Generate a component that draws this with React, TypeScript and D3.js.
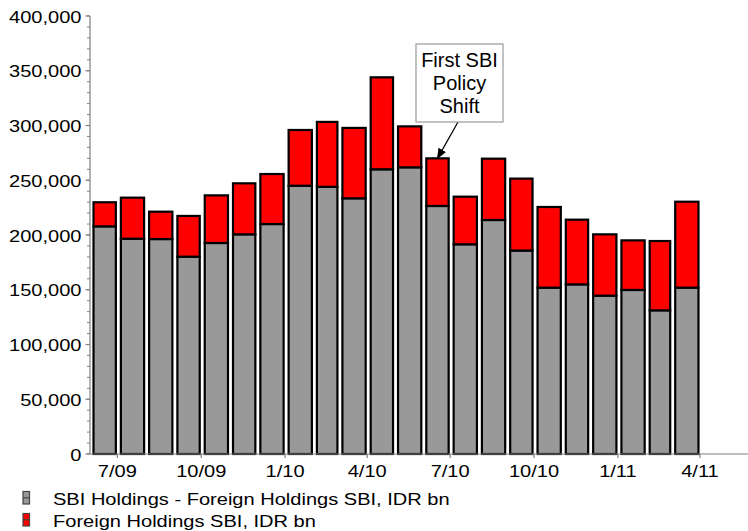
import React from "react";
import * as d3 from "d3";

// Monthly observations (bar spans the month, ending at the next month start)
const months: string[] = [
  "2009-06", "2009-07", "2009-08", "2009-09", "2009-10", "2009-11", "2009-12",
  "2010-01", "2010-02", "2010-03", "2010-04", "2010-05", "2010-06", "2010-07",
  "2010-08", "2010-09", "2010-10", "2010-11", "2010-12", "2011-01", "2011-02",
  "2011-03",
];

// SBI holdings excluding foreign holdings, IDR bn
const domesticSBI: number[] = [
  207900, 196600, 196300, 180200, 192700, 200600, 210000, 245000, 244000,
  233500, 260000, 261800, 226500, 191500, 213700, 185800, 151900, 154900,
  144600, 149800, 131200, 151900,
];

// Foreign holdings of SBI, IDR bn
const foreignSBI: number[] = [
  22000, 37500, 25000, 37200, 43500, 46600, 45700, 50900, 59300, 64300,
  84000, 37400, 43500, 43500, 56000, 65700, 73700, 59100, 56000, 45300,
  63300, 78500,
];

const yTicks: number[] = [0, 50000, 100000, 150000, 200000, 250000, 300000, 350000, 400000];
const xTickDates: string[] = ["2009-07", "2009-10", "2010-01", "2010-04", "2010-07", "2010-10", "2011-01", "2011-04"];
const xTickLabels: string[] = ["7/09", "10/09", "1/10", "4/10", "7/10", "10/10", "1/11", "4/11"];

const seriesNames: string[] = [
  "SBI Holdings - Foreign Holdings SBI, IDR bn",
  "Foreign Holdings SBI, IDR bn",
];
const seriesColors: string[] = ["#999999", "#ff0000"];

const annotationLines: string[] = ["First SBI", "Policy", "Shift"];
const annotationMonth = "2010-06";

const W = 748;
const H = 531;
const FONT = "'Liberation Sans', Arial, Helvetica, sans-serif";
const SX = 1.18; // horizontal stretch of axis and legend type

const parse = d3.timeParse("%Y-%m");

export default function App() {
  const x = d3
    .scaleTime()
    .domain([parse("2009-06")!, parse("2011-06")!])
    .range([90, 755.6]);
  const y = d3.scaleLinear().domain([0, 400000]).range([454, 16]);

  const minorTicks = d3.range(0, 400001, 10000);

  const bars = months.map((m, i) => {
    const start = parse(m)!;
    const end = d3.timeMonth.offset(start, 1);
    const x0 = x(start) + 3.5;
    const x1 = x(end) - 1.5;
    const base = domesticSBI[i];
    const total = base + foreignSBI[i];
    return { m, x0, x1, base, total };
  });

  const ann = bars.find((b) => b.m === annotationMonth)!;
  const annX = (ann.x0 + ann.x1) / 2;
  const annY = y(ann.total);

  return (
    <svg
      width={W}
      height={H}
      style={{ position: "absolute", left: 0, top: 0, background: "#fff" }}
      fontFamily={FONT}
    >
      <defs>
        <marker id="arrowHead" viewBox="0 0 10 10" refX="9" refY="5" markerWidth="9" markerHeight="9" orient="auto">
          <path d="M0,1 L10,5 L0,9 z" fill="#000" />
        </marker>
        <clipPath id="plotClip">
          <rect x={0} y={0} width={W} height={H} />
        </clipPath>
      </defs>

      {/* stacked bars */}
      {bars.map((b) => (
        <g key={b.m}>
          <rect
            x={b.x0}
            y={y(b.base)}
            width={b.x1 - b.x0}
            height={y(0) - y(b.base)}
            fill={seriesColors[0]}
            stroke="#000"
            strokeWidth={2.2}
          />
          <rect
            x={b.x0}
            y={y(b.total)}
            width={b.x1 - b.x0}
            height={y(b.base) - y(b.total)}
            fill={seriesColors[1]}
            stroke="#000"
            strokeWidth={2.2}
          />
        </g>
      ))}

      {/* y axis */}
      <line x1={90} x2={90} y1={y(400000)} y2={y(0)} stroke="#808080" strokeWidth={1.2} />
      {minorTicks.map((v) => (
        <line key={"m" + v} x1={87} x2={90} y1={y(v)} y2={y(v)} stroke="#808080" strokeWidth={1} />
      ))}
      {yTicks.map((v) => (
        <g key={"t" + v}>
          <line x1={85.5} x2={90} y1={y(v)} y2={y(v)} stroke="#808080" strokeWidth={1.2} />
          <text
            transform={`translate(81.5,${y(v) + 6.5}) scale(${SX},1)`}
            textAnchor="end"
            fontSize={17}
            fill="#000"
          >
            {d3.format(",")(v)}
          </text>
        </g>
      ))}

      {/* x axis */}
      <line x1={90} x2={W} y1={y(0)} y2={y(0)} stroke="#808080" strokeWidth={1.2} clipPath="url(#plotClip)" />
      {xTickDates.map((d, i) => {
        const tx = x(parse(d)!);
        return (
          <g key={d}>
            <line x1={tx} x2={tx} y1={y(0)} y2={y(0) + 4} stroke="#808080" strokeWidth={1.2} />
            <text
              transform={`translate(${tx},476.5) scale(${SX},1)`}
              textAnchor="middle"
              fontSize={17}
              fill="#000"
            >
              {xTickLabels[i]}
            </text>
          </g>
        );
      })}

      {/* annotation */}
      <line x1={458} y1={122} x2={annX} y2={annY} stroke="#000" strokeWidth={1.2} markerEnd="url(#arrowHead)" />
      <rect x={416} y={44} width={87} height={78} fill="#fff" stroke="#999" strokeWidth={1.2} />
      {annotationLines.map((t, i) => (
        <text key={t} x={459.5} y={66.5 + i * 23.3} textAnchor="middle" fontSize={20} fill="#000">
          {t}
        </text>
      ))}

      {/* legend */}
      {seriesNames.map((name, i) => {
        const top = 491.5 + i * 22;
        return (
          <g key={name}>
            <rect x={23} y={top} width={6.5} height={12.5} fill={seriesColors[i]} stroke="#444" strokeWidth={1.2} />
            <line x1={23} x2={29.5} y1={top + 6.25} y2={top + 6.25} stroke="#444" strokeWidth={1.2} />
            <text
              transform={`translate(53,${top + 13.5}) scale(${SX},1)`}
              fontSize={17}
              fill="#000"
            >
              {name}
            </text>
          </g>
        );
      })}
    </svg>
  );
}
